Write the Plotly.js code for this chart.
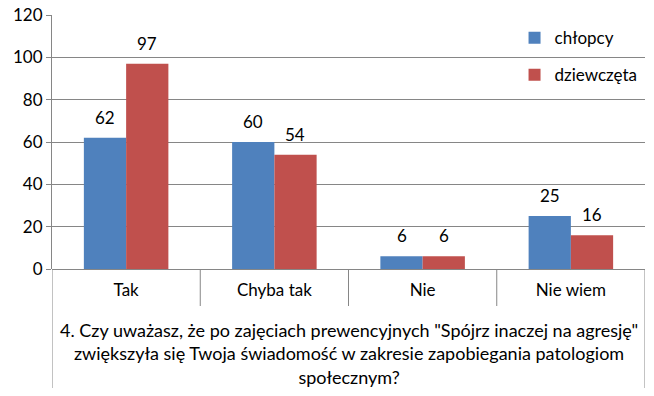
<!DOCTYPE html>
<html>
<head>
<meta charset="utf-8">
<script src="https://cdn.plot.ly/plotly-3.0.1.min.js"></script>
<style>html,body{margin:0;padding:0;background:#fff}#chart{width:654px;height:396px}</style>
</head>
<body>
<div id="chart"></div>
<script>
const categories = ["Tak", "Chyba tak", "Nie", "Nie wiem"];
const seriesNames = ["chłopcy", "dziewczęta"];
const chlopcy = [62, 60, 6, 25];
const dziewczeta = [97, 54, 6, 16];
const yTicks = [0, 20, 40, 60, 80, 100, 120];
const questionText = '4. Czy uważasz, że po zajęciach prewencyjnych "Spójrz inaczej na agresję"<br>zwiększyła się Twoja świadomość w zakresie zapobiegania patologiom<br>społecznym?';

const FONT = "Lato, 'Open Sans', sans-serif";
const colors = ["#4F81BD", "#C0504D"];
const values = [chlopcy, dziewczeta];

const traces = values.map((v, i) => ({
  type: "bar",
  name: seriesNames[i],
  x: categories,
  y: v,
  marker: {color: colors[i]},
  legendgroup: "g" + i,
  hoverinfo: "x+y+name"
}));

const annotations = [];
values.forEach((v, i) => {
  v.forEach((val, j) => {
    annotations.push({
      x: categories[j], y: val, xref: "x", yref: "y",
      text: String(val), showarrow: false,
      xshift: i === 0 ? -21 : 21, yshift: 8,
      yanchor: "bottom",
      font: {family: FONT, size: 17, color: "#000"}
    });
  });
});
annotations.push({
  x: 0.5, y: -0.19, xref: "paper", yref: "paper",
  text: questionText, showarrow: false,
  xanchor: "center", yanchor: "top", align: "center",
  font: {family: FONT, size: 18, color: "#000"}
});

const plotH = 254;
const shapes = [];
for (let k = 0; k <= categories.length; k++) {
  const edge = (k === 0 || k === categories.length);
  shapes.push({
    type: "line", xref: "x", yref: "paper",
    x0: k - 0.5, x1: k - 0.5,
    y0: 0, y1: edge ? -(119 / plotH) : -(37 / plotH),
    line: {color: "#868686", width: 1}
  });
}

const layout = {
  width: 654, height: 396,
  margin: {l: 52, r: 9, t: 15, b: 127},
  paper_bgcolor: "#fff", plot_bgcolor: "#fff",
  font: {family: FONT, size: 16, color: "#000"},
  barmode: "group",
  bargap: 0.43,
  bargroupgap: 0,
  showlegend: true,
  legend: {
    x: 0.78, y: 0.98, xanchor: "left", yanchor: "top",
    traceorder: "grouped", tracegroupgap: 12,
    itemwidth: 30,
    font: {family: FONT, size: 17, color: "#000"},
    bgcolor: "rgba(0,0,0,0)"
  },
  xaxis: {
    type: "category",
    range: [-0.5, categories.length - 0.5],
    showgrid: false, ticks: "", showline: false,
    ticklabelstandoff: 9,
    tickfont: {family: FONT, size: 17, color: "#000"},
    fixedrange: true
  },
  yaxis: {
    range: [0, 120],
    tickvals: yTicks,
    ticktext: yTicks.map(String),
    showgrid: true, gridcolor: "#868686", gridwidth: 1,
    zeroline: true, zerolinecolor: "#868686", zerolinewidth: 1,
    showline: true, linecolor: "#868686", linewidth: 1,
    ticks: "outside", ticklen: 5, tickcolor: "#868686",
    tickfont: {family: FONT, size: 17, color: "#000"},
    fixedrange: true
  },
  annotations: annotations,
  shapes: shapes
};

Plotly.newPlot("chart", traces, layout, {displayModeBar: false, staticPlot: true});
</script>
</body>
</html>
